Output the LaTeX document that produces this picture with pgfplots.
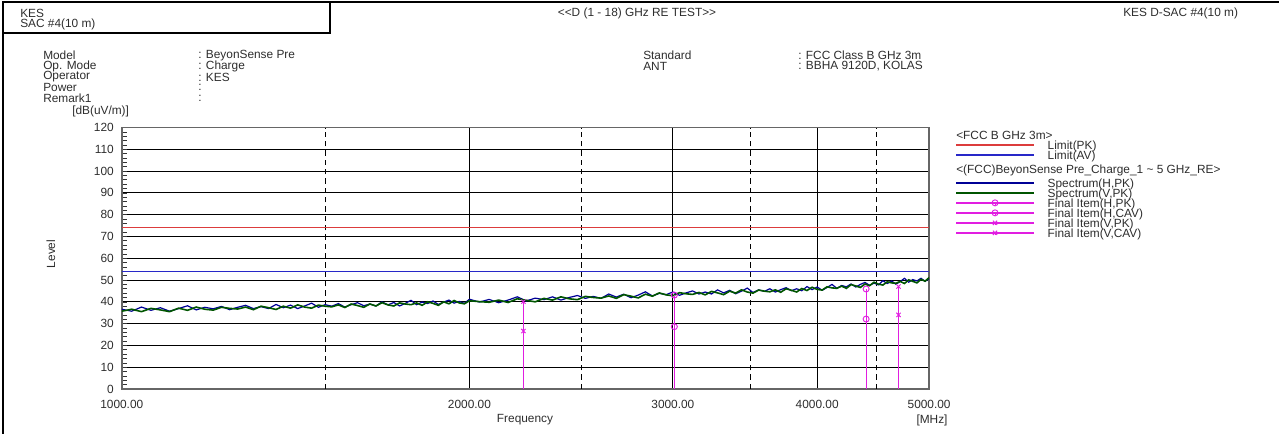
\documentclass[border=0pt]{standalone}
\usepackage{fontspec}
\setmainfont{Liberation Sans}
\usepackage{pgfplots}
\usepackage{pgfplotstable}
\pgfplotsset{compat=1.18}

\definecolor{limpk}{RGB}{220,60,60}
\definecolor{limav}{RGB}{40,40,200}
\definecolor{spech}{RGB}{0,0,150}
\definecolor{specv}{RGB}{0,85,0}
\definecolor{final}{RGB}{225,30,225}
\definecolor{txt}{RGB}{45,45,45}

\newcommand{\chartfont}{\fontsize{8.9}{10}\selectfont}

\pgfplotsset{
  line legend long/.style={legend image code/.code={%
    \draw[##1, line width=1pt] (0pt,1.5pt) -- (58.5pt,1.5pt);}},
  fin legend/.style={legend image code/.code={%
    \draw[draw=final, line width=1pt] (0pt,1.5pt) -- (58.5pt,1.5pt);
    \draw[draw=final, line width=0.7pt, mark size=2.25pt, mark=#1]
      plot coordinates {(29.25pt,1.5pt)};}},
  head legend/.style={legend image code/.code={%
    \node[overlay,anchor=west,inner sep=0pt] at (0pt,0pt) {#1};}},
}

% spectrum sweep, H and V polarisation
\pgfplotstableread{
f h v
1000 36.6 35.7
1020 35.7 36.6
1040 37.6 35.5
1060 36.1 37.0
1080 37.3 36.3
1100 35.7 35.5
1120 36.9 37.1
1140 38.2 36.1
1160 36.3 37.6
1180 37.5 36.6
1200 36.8 36.2
1220 37.9 37.5
1240 36.4 37.0
1260 37.5 36.7
1280 38.4 37.6
1300 36.9 36.4
1320 37.8 38.0
1340 36.9 37.3
1360 38.8 36.5
1380 37.3 38.0
1400 38.5 37.1
1420 36.9 38.6
1440 38.1 37.6
1460 39.4 37.1
1480 37.5 38.5
1500 38.7 38.0
1520 38.0 37.7
1540 39.2 38.6
1560 37.6 37.4
1580 38.7 39.0
1600 39.6 38.3
1620 38.2 37.5
1640 39.0 39.0
1660 38.1 38.1
1680 40.0 39.6
1700 38.6 38.6
1720 39.7 38.1
1740 38.1 39.5
1760 39.3 39.0
1780 40.7 38.7
1800 38.7 39.5
1820 39.9 38.4
1840 39.2 40.0
1860 40.4 39.3
1880 38.8 38.4
1900 39.9 40.0
1920 40.8 39.1
1940 39.4 40.6
1960 40.2 39.5
1980 39.3 39.1
2000 41.2 40.5
2040 39.9 40.1
2080 41.1 39.8
2120 39.6 40.8
2160 40.8 39.7
2200 42.3 41.4
2240 40.4 40.7
2280 41.7 40.0
2320 41.0 41.6
2360 42.3 40.8
2400 40.8 42.3
2440 42.0 41.4
2480 42.9 41.0
2520 41.6 42.5
2560 42.5 42.0
2600 41.6 41.7
2640 43.6 42.7
2680 42.2 41.6
2720 43.5 43.3
2760 41.9 42.6
2800 43.1 41.8
2840 44.6 43.5
2880 42.7 42.6
2920 43.9 44.1
2960 43.3 43.2
3000 44.5 42.8
3040 43.0 44.2
3080 44.1 43.7
3120 45.0 43.4
3160 43.6 44.3
3200 44.5 43.2
3240 43.6 44.8
3280 45.5 44.1
3320 44.1 43.3
3360 45.3 44.9
3400 43.7 44.0
3440 44.9 45.5
3480 46.3 44.5
3520 44.3 44.0
3560 45.5 45.4
3600 44.8 44.9
3640 46.0 44.6
3680 44.5 45.5
3720 45.6 44.4
3760 46.5 46.0
3800 45.1 45.3
3840 46.0 44.5
3880 45.1 46.1
3920 47.0 45.2
3960 45.6 46.7
4000 46.8 45.7
4040 45.3 45.4
4080 46.6 46.9
4120 48.0 46.4
4160 46.2 46.2
4200 47.5 47.2
4240 46.9 46.2
4280 48.2 47.9
4320 46.8 47.3
4360 48.0 46.6
4400 48.9 48.2
4440 47.6 47.4
4480 48.6 49.0
4520 47.8 48.1
4560 49.7 47.7
4600 48.4 49.2
4640 49.6 48.7
4680 48.1 48.5
4720 49.3 49.4
4760 50.8 48.4
4800 49.0 50.1
4840 50.2 49.4
4880 49.6 48.7
4920 50.8 50.3
4960 49.4 49.5
5000 50.6 51.1
}\spectrum

\begin{document}
\begin{tikzpicture}[font=\chartfont, text=txt]
\useasboundingbox (0,0) rectangle (959.25pt,325.5pt);

% page header, in pixel units of the reference (y downwards)
\begin{scope}[x=0.75pt, y=-0.75pt, yshift=325.5pt,
              every node/.style={inner sep=0pt, anchor=west}]
  \draw[black, line width=0.9pt] (3,434) -- (3,2) -- (1279,2);
  \draw[black, line width=0.9pt] (3,33) -- (330,33) -- (330,2);
  \node at (20,13) {KES};
  \node at (20,24) {SAC \#4(10 m)};
  \node[anchor=center] at (637,13) {<{}<D (1 - 18) GHz RE TEST>{}>};
  \node at (1123,13) {KES D-SAC \#4(10 m)};

  \node at (43,55.7) {Model};
  \node at (43,66.3) {Op. Mode};
  \node at (43,77) {Operator};
  \node at (43,87.6) {Power};
  \node at (43,98.3) {Remark1};
  \node at (198,55.7) {: BeyonSense Pre};
  \node at (198,66.3) {: Charge};
  \node at (198,77) {: KES};
  \node at (198,87.6) {:};
  \node at (198,98.3) {:};

  \node at (643,55.7) {Standard};
  \node at (643,66.3) {ANT};
  \node at (798,55.7) {: FCC Class B GHz 3m};
  \node at (798,66.3) {: BBHA 9120D, KOLAS};

  \node at (72,111) {[dB(uV/m)]};
  \node[anchor=center, rotate=90] at (51,254) {Level};
  \node[anchor=center] at (525,420) {Frequency};
  \node[anchor=center] at (932,420) {[MHz]};
\end{scope}

\begin{axis}[
    at={(91.3pt,33.75pt)}, anchor=south west,
    scale only axis, width=605.5pt, height=196.1pt,
    xmode=log, xmin=1000, xmax=5000,
    ymin=0, ymax=120,
    xtick={1000,2000,3000,4000,5000},
    xticklabels={1000.00,2000.00,3000.00,4000.00,5000.00},
    extra x ticks={1500,2500,3500,4500},
    extra x tick labels={,,,},
    extra x tick style={major grid style={black, line width=0.6pt, dash pattern=on 4pt off 3pt}},
    xminorticks=false,
    xtick style={draw=none},
    ytick={0,10,...,120},
    minor y tick num=4,
    ytick pos=left, tick align=inside,
    major tick length=3.75pt, minor tick length=3.75pt,
    ytick style={black!80, line width=0.5pt},
    minor y tick style={black!80, line width=0.5pt},
    xmajorgrids, ymajorgrids,
    major grid style={black, line width=0.6pt},
    axis line style={black!60, line width=1.1pt},
    /pgf/number format/assume math mode=true,
    ticklabel style={font=\chartfont, text=txt},
    yticklabel style={inner sep=0pt, xshift=-5.8pt},
    xticklabel style={inner sep=0pt, yshift=-8.2pt},
    line legend long,
    legend style={at={(1.0322,0.9845)}, anchor=north west,
      draw=none, fill=none, inner sep=0pt,
      row sep=0pt, column sep=9.75pt,
      font=\chartfont, text=txt,
      cells={anchor=west},
      nodes={inner sep=0pt, text height=5.6pt, text depth=1.9pt}},
  ]

  \addlegendimage{head legend={<FCC B GHz 3m>}}
  \addlegendentry{\mbox{}}
  \addplot[limpk, line width=0.6pt] coordinates {(1000,74) (5000,74)};
  \addlegendentry{Limit(PK)}
  \addplot[limav, line width=0.6pt] coordinates {(1000,54) (5000,54)};
  \addlegendentry{Limit(AV)}

  \addlegendimage{head legend={<(FCC)BeyonSense Pre\_Charge\_1 \textasciitilde{} 5 GHz\_RE>}}
  \addlegendentry[text height=8.6pt, text depth=4.9pt]{\mbox{}}
  \addplot[spech, line width=0.9pt] table[x=f, y=h] {\spectrum};
  \addlegendentry{Spectrum(H,PK)}
  \addplot[specv, line width=1.2pt] table[x=f, y=v] {\spectrum};
  \addlegendentry{Spectrum(V,PK)}

  \addplot[final, line width=0.9pt, ycomb, mark=o, mark size=2.25pt,
    mark options={solid, line width=0.7pt}, fin legend=o]
    coordinates {(3009,43.1) (4410,45.9)};
  \addlegendentry{Final Item(H,PK)}
  \addplot[final, line width=0.9pt, ycomb, mark=o, mark size=2.25pt,
    mark options={solid, line width=0.7pt}, fin legend=o]
    coordinates {(3009,28.6) (4410,32.1)};
  \addlegendentry{Final Item(H,CAV)}
  \addplot[final, line width=0.9pt, ycomb, mark=x, mark size=2.25pt,
    mark options={solid, line width=0.7pt}, fin legend=x]
    coordinates {(2227,40.1) (4704,47.0)};
  \addlegendentry{Final Item(V,PK)}
  \addplot[final, line width=0.9pt, ycomb, mark=x, mark size=2.25pt,
    mark options={solid, line width=0.7pt}, fin legend=x]
    coordinates {(2227,26.6) (4704,34.0)};
  \addlegendentry{Final Item(V,CAV)}
\end{axis}
\end{tikzpicture}
\end{document}
